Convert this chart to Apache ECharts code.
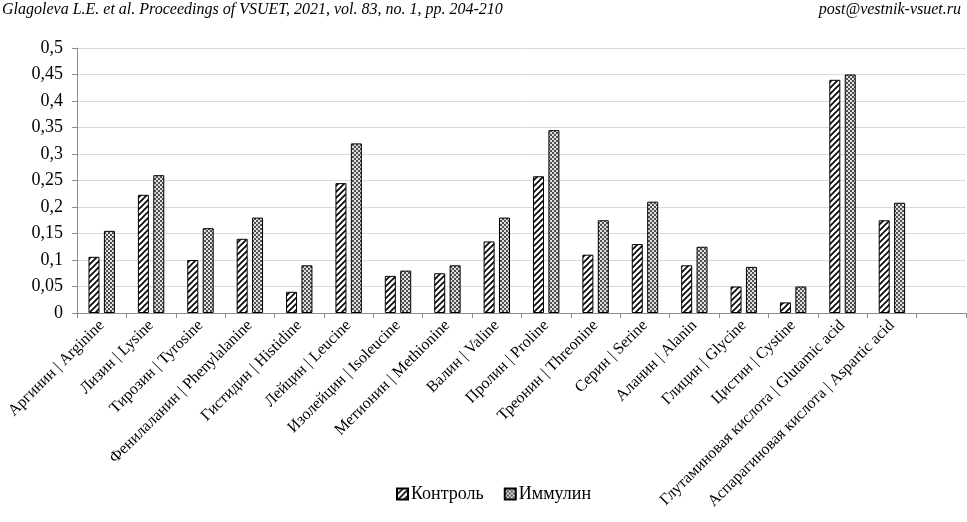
<!DOCTYPE html>
<html><head><meta charset="utf-8">
<script src="https://cdn.jsdelivr.net/npm/echarts@6/dist/echarts.min.js"></script>
<style>html,body{margin:0;padding:0;background:#fff}#c{width:967px;height:522px}</style>
</head><body><div id="c"></div>
<script>
var categories = ['Аргинин | Arginine','Лизин | Lysine','Тирозин | Tyrosine','Фенилаланин | Phenylalanine','Гистидин | Histidine','Лейцин | Leucine','Изолейцин | Isoleucine','Метионин | Methionine','Валин | Valine','Пролин | Proline','Треонин | Threonine','Серин | Serine','Аланин | Alanin','Глицин | Glycine','Цистин | Cystine','Глутаминовая кислота | Glutamic acid','Аспарагиновая кислота | Aspartic acid',''];
var control = [0.106,0.223,0.100,0.140,0.040,0.245,0.070,0.075,0.135,0.258,0.110,0.130,0.090,0.050,0.020,0.440,0.175,null];
var immulin = [0.155,0.260,0.160,0.180,0.090,0.320,0.080,0.090,0.180,0.345,0.175,0.210,0.125,0.087,0.050,0.450,0.208,null];
var seriesNames = ['Контроль','Иммулин'];

function hatch(){
  var c=document.createElement('canvas');c.width=6;c.height=6;var g=c.getContext('2d');
  g.fillStyle='#fff';g.fillRect(0,0,6,6);
  g.strokeStyle='#000';g.lineWidth=1.6;
  g.beginPath();g.moveTo(-1,7);g.lineTo(7,-1);g.moveTo(-4,4);g.lineTo(4,-4);g.moveTo(2,10);g.lineTo(10,2);g.stroke();
  return c;
}
function checker(){
  var c=document.createElement('canvas');c.width=4;c.height=4;var g=c.getContext('2d');
  g.fillStyle='#e0e0e0';g.fillRect(0,0,4,4);
  g.fillStyle='#505050';g.fillRect(0,0,2,2);g.fillRect(2,2,2,2);
  return c;
}
var chart=echarts.init(document.getElementById('c'),null,{renderer:'canvas'});
var font='"Liberation Serif","Times New Roman",serif';
chart.setOption({
  animation:false,
  graphic:[
    {type:'text',left:2,top:2,style:{text:'Glagoleva L.E. et al. Proceedings of VSUET, 2021, vol. 83, no. 1, pp. 204-210',font:'italic 16px '+font,fill:'#000'}},
    {type:'text',right:6,top:2,style:{text:'post@vestnik-vsuet.ru',font:'italic 16px '+font,fill:'#000'}}
  ],
  legend:{bottom:14,left:391,itemWidth:11,itemHeight:11,itemGap:20,icon:'rect',
    textStyle:{fontFamily:font,fontSize:18,color:'#000',padding:[0,0,0,-2]},data:seriesNames},
  grid:{left:77,right:1,top:48,bottom:209,containLabel:false},
  xAxis:{type:'category',data:categories,
    axisLine:{lineStyle:{color:'#8c8c8c'}},
    axisTick:{show:true,alignWithLabel:false,lineStyle:{color:'#8c8c8c'},length:5},
    axisLabel:{interval:0,rotate:45,fontFamily:font,fontSize:16,color:'#000',margin:10}},
  yAxis:{type:'value',min:0,max:0.5,interval:0.05,
    axisLine:{show:true,lineStyle:{color:'#8c8c8c'}},
    axisTick:{show:true,lineStyle:{color:'#8c8c8c'},length:5},
    splitLine:{lineStyle:{color:'#d9d9d9'}},
    axisLabel:{fontFamily:font,fontSize:18,color:'#000',margin:14,
      formatter:function(v){return String(Math.round(v*100)/100).replace('.',',');}}},
  series:[
    {name:seriesNames[0],type:'bar',data:control,barWidth:11,barGap:'40%',
      itemStyle:{color:{image:hatch(),repeat:'repeat'},borderColor:'#000',borderWidth:1}},
    {name:seriesNames[1],type:'bar',data:immulin,barWidth:11,
      itemStyle:{color:{image:checker(),repeat:'repeat'},borderColor:'#000',borderWidth:1}}
  ]
});
</script></body></html>
